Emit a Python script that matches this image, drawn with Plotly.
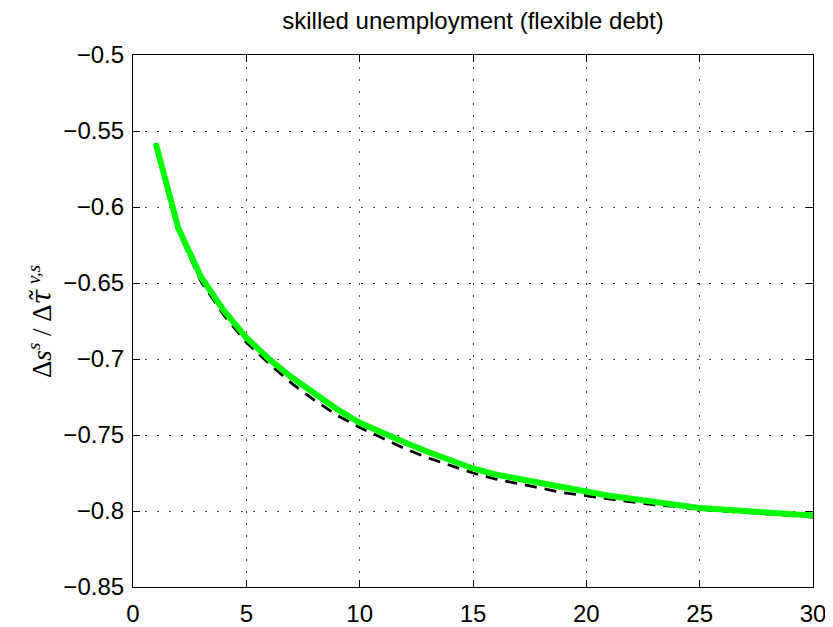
import plotly.graph_objects as go

t = list(range(1, 31))
green = [-0.558, -0.614, -0.646, -0.668, -0.686, -0.700, -0.712, -0.723, -0.733, -0.742,
         -0.749, -0.755, -0.761, -0.767, -0.772, -0.776, -0.779, -0.782, -0.785, -0.788,
         -0.790, -0.792, -0.794, -0.796, -0.798, -0.799, -0.800, -0.801, -0.802, -0.803]
dashed = [-0.558, -0.616, -0.649, -0.671, -0.689, -0.703, -0.716, -0.727, -0.737, -0.745,
          -0.752, -0.759, -0.765, -0.770, -0.775, -0.779, -0.782, -0.785, -0.788, -0.790,
          -0.792, -0.794, -0.796, -0.797, -0.799, -0.800, -0.801, -0.802, -0.803, -0.804]
xticks = [0, 5, 10, 15, 20, 25, 30]
yticks = [-0.85, -0.8, -0.75, -0.7, -0.65, -0.6, -0.55, -0.5]
yticktext = ["\u22120.85", "\u22120.8", "\u22120.75", "\u22120.7", "\u22120.65", "\u22120.6", "\u22120.55", "\u22120.5"]

# page body has an 8px margin; figure is sized/margined to compensate
W, H = 825, 619
L, R, T, B = 125, 20, 47, 40

fig = go.Figure()
fig.add_trace(go.Scatter(x=t, y=dashed, mode="lines",
                         line=dict(color="black", width=2.8, dash="12px,8px")))
fig.add_trace(go.Scatter(x=t, y=green, mode="lines",
                         line=dict(color="#00ff00", width=6)))

axis_common = dict(showline=True, linecolor="black", linewidth=1.2, mirror="allticks",
                   ticks="inside", ticklen=7, tickcolor="black", tickwidth=1.2,
                   showgrid=True, gridcolor="#444444", gridwidth=1.2, griddash="1.5px,10.5px",
                   zeroline=False, automargin=False,
                   tickfont=dict(family="Liberation Sans, Arial", size=24, color="black"))

fig.update_layout(
    width=W, height=H,
    margin=dict(l=L, r=R, t=T, b=B, autoexpand=False),
    paper_bgcolor="white", plot_bgcolor="white",
    showlegend=False,
    xaxis=dict(range=[0, 30], tickvals=xticks, ticklabelstandoff=5, **axis_common),
    yaxis=dict(range=[-0.85, -0.5], tickvals=yticks, ticktext=yticktext, ticklabelstandoff=3, **axis_common),
    title=dict(text="skilled unemployment (flexible debt)", x=(473 - 8) / W, xanchor="center",
               y=1 - (21 - 8) / H, yanchor="middle", automargin=False,
               font=dict(family="Liberation Sans, Arial", size=24, color="black")),
    annotations=[dict(text="Δ<i>s</i><sup><i>s</i></sup> / Δ<span style=\"font-family:'DejaVu Serif'\"><i>τ̃</i></span>\u2009<sup><i>v,s</i></sup>",
                      xref="paper", yref="paper", x=(40 - 8 - L) / (W - L - R), y=(H - B - (321 - 8)) / (H - T - B),
                      textangle=-90, showarrow=False, xanchor="center", yanchor="middle",
                      font=dict(family="Liberation Serif, Times New Roman", size=27, color="black"))],
)
fig.write_html("out.html")
